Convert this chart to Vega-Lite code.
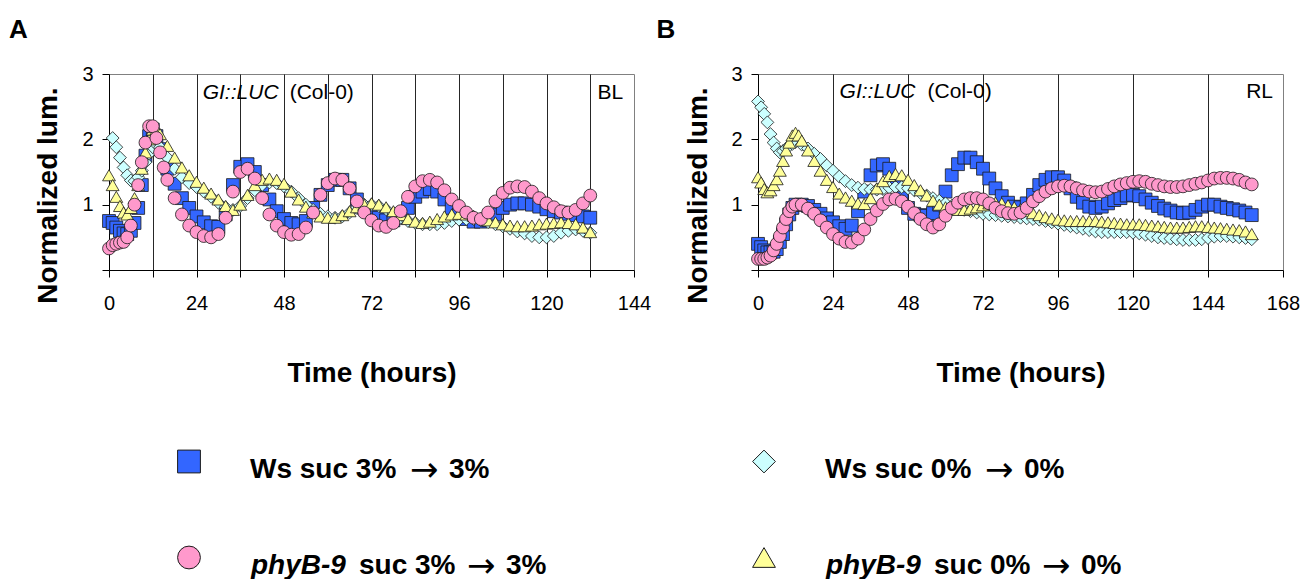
{
"$schema": "https://vega.github.io/schema/vega-lite/v6.json",
"background": "white",
"padding": {"left": 8, "top": 16, "right": 5, "bottom": 0},
"bounds": "flush",
"spacing": 366,
"config": {
  "font": "Liberation Sans",
  "view": {"stroke": "#808080", "strokeWidth": 1},
  "axis": {"labelFont": "Liberation Sans", "labelFontSize": 20, "labelColor": "#000", "titleFont": "Liberation Sans", "titleFontSize": 28, "titleFontWeight": "bold", "titleColor": "#000", "domainColor": "#000", "tickColor": "#000", "domainWidth": 1, "tickWidth": 1, "labelFlush": false, "labelOverlap": false, "labelBound": false}
},
"datasets": {
"a": [
{"s":"W3","t":0,"v":0.75},{"s":"W3","t":1,"v":0.72},{"s":"W3","t":2,"v":0.65},{"s":"W3","t":3,"v":0.6},{"s":"W3","t":4,"v":0.56},{"s":"W3","t":5,"v":0.55},{"s":"W3","t":6,"v":0.6},{"s":"W3","t":7,"v":0.72},{"s":"W3","t":8,"v":0.95},{"s":"W3","t":9,"v":1.3},{"s":"W3","t":10,"v":1.75},{"s":"W3","t":11,"v":2.05},{"s":"W3","t":12,"v":2.15},{"s":"W3","t":13,"v":2.05},{"s":"W3","t":14,"v":1.85},{"s":"W3","t":16,"v":1.55},{"s":"W3","t":18,"v":1.32},{"s":"W3","t":20,"v":1.1},{"s":"W3","t":22,"v":0.95},{"s":"W3","t":24,"v":0.82},{"s":"W3","t":26,"v":0.73},{"s":"W3","t":28,"v":0.67},{"s":"W3","t":30,"v":0.66},{"s":"W3","t":32,"v":0.85},{"s":"W3","t":34,"v":1.3},{"s":"W3","t":36,"v":1.58},{"s":"W3","t":38,"v":1.62},{"s":"W3","t":40,"v":1.5},{"s":"W3","t":42,"v":1.3},{"s":"W3","t":44,"v":1.08},{"s":"W3","t":46,"v":0.9},{"s":"W3","t":48,"v":0.78},{"s":"W3","t":50,"v":0.72},{"s":"W3","t":52,"v":0.7},{"s":"W3","t":54,"v":0.75},{"s":"W3","t":56,"v":0.95},{"s":"W3","t":58,"v":1.15},{"s":"W3","t":60,"v":1.3},{"s":"W3","t":62,"v":1.38},{"s":"W3","t":64,"v":1.38},{"s":"W3","t":66,"v":1.25},{"s":"W3","t":68,"v":1.08},{"s":"W3","t":70,"v":0.95},{"s":"W3","t":72,"v":0.88},{"s":"W3","t":74,"v":0.8},{"s":"W3","t":76,"v":0.76},{"s":"W3","t":78,"v":0.76},{"s":"W3","t":80,"v":0.8},{"s":"W3","t":82,"v":0.95},{"s":"W3","t":84,"v":1.12},{"s":"W3","t":86,"v":1.2},{"s":"W3","t":88,"v":1.24},{"s":"W3","t":90,"v":1.2},{"s":"W3","t":92,"v":1.08},{"s":"W3","t":94,"v":0.95},{"s":"W3","t":96,"v":0.85},{"s":"W3","t":98,"v":0.78},{"s":"W3","t":100,"v":0.74},{"s":"W3","t":102,"v":0.74},{"s":"W3","t":104,"v":0.76},{"s":"W3","t":106,"v":0.85},{"s":"W3","t":108,"v":0.95},{"s":"W3","t":110,"v":1.0},{"s":"W3","t":112,"v":1.02},{"s":"W3","t":114,"v":1.02},{"s":"W3","t":116,"v":1.0},{"s":"W3","t":118,"v":0.97},{"s":"W3","t":120,"v":0.93},{"s":"W3","t":122,"v":0.9},{"s":"W3","t":124,"v":0.88},{"s":"W3","t":126,"v":0.86},{"s":"W3","t":128,"v":0.84},{"s":"W3","t":130,"v":0.82},{"s":"W3","t":132,"v":0.8},
{"s":"W0","t":1,"v":2.02},{"s":"W0","t":2,"v":1.88},{"s":"W0","t":3,"v":1.72},{"s":"W0","t":4,"v":1.57},{"s":"W0","t":5,"v":1.45},{"s":"W0","t":6,"v":1.37},{"s":"W0","t":7,"v":1.36},{"s":"W0","t":8,"v":1.42},{"s":"W0","t":9,"v":1.52},{"s":"W0","t":10,"v":1.65},{"s":"W0","t":11,"v":1.78},{"s":"W0","t":12,"v":1.88},{"s":"W0","t":13,"v":1.92},{"s":"W0","t":14,"v":1.88},{"s":"W0","t":16,"v":1.72},{"s":"W0","t":18,"v":1.55},{"s":"W0","t":20,"v":1.42},{"s":"W0","t":22,"v":1.33},{"s":"W0","t":24,"v":1.27},{"s":"W0","t":26,"v":1.2},{"s":"W0","t":28,"v":1.12},{"s":"W0","t":30,"v":1.03},{"s":"W0","t":32,"v":0.96},{"s":"W0","t":34,"v":0.92},{"s":"W0","t":36,"v":0.98},{"s":"W0","t":38,"v":1.1},{"s":"W0","t":40,"v":1.22},{"s":"W0","t":42,"v":1.3},{"s":"W0","t":44,"v":1.34},{"s":"W0","t":46,"v":1.33},{"s":"W0","t":48,"v":1.28},{"s":"W0","t":50,"v":1.2},{"s":"W0","t":52,"v":1.1},{"s":"W0","t":54,"v":1.0},{"s":"W0","t":56,"v":0.92},{"s":"W0","t":58,"v":0.86},{"s":"W0","t":60,"v":0.82},{"s":"W0","t":62,"v":0.8},{"s":"W0","t":64,"v":0.82},{"s":"W0","t":66,"v":0.88},{"s":"W0","t":68,"v":0.95},{"s":"W0","t":70,"v":1.0},{"s":"W0","t":72,"v":1.0},{"s":"W0","t":74,"v":0.98},{"s":"W0","t":76,"v":0.93},{"s":"W0","t":78,"v":0.87},{"s":"W0","t":80,"v":0.8},{"s":"W0","t":82,"v":0.75},{"s":"W0","t":84,"v":0.72},{"s":"W0","t":86,"v":0.7},{"s":"W0","t":88,"v":0.7},{"s":"W0","t":90,"v":0.7},{"s":"W0","t":92,"v":0.72},{"s":"W0","t":94,"v":0.75},{"s":"W0","t":96,"v":0.77},{"s":"W0","t":98,"v":0.78},{"s":"W0","t":100,"v":0.78},{"s":"W0","t":102,"v":0.76},{"s":"W0","t":104,"v":0.73},{"s":"W0","t":106,"v":0.7},{"s":"W0","t":108,"v":0.67},{"s":"W0","t":110,"v":0.63},{"s":"W0","t":112,"v":0.59},{"s":"W0","t":114,"v":0.56},{"s":"W0","t":116,"v":0.52},{"s":"W0","t":118,"v":0.5},{"s":"W0","t":120,"v":0.5},{"s":"W0","t":122,"v":0.52},{"s":"W0","t":124,"v":0.57},{"s":"W0","t":126,"v":0.6},{"s":"W0","t":128,"v":0.62},{"s":"W0","t":130,"v":0.6},{"s":"W0","t":132,"v":0.57},
{"s":"P0","t":0,"v":1.45},{"s":"P0","t":1,"v":1.3},{"s":"P0","t":2,"v":1.12},{"s":"P0","t":3,"v":0.98},{"s":"P0","t":4,"v":0.88},{"s":"P0","t":5,"v":0.85},{"s":"P0","t":6,"v":0.95},{"s":"P0","t":7,"v":1.1},{"s":"P0","t":8,"v":1.3},{"s":"P0","t":9,"v":1.55},{"s":"P0","t":10,"v":1.8},{"s":"P0","t":11,"v":2.0},{"s":"P0","t":12,"v":2.15},{"s":"P0","t":13,"v":2.15},{"s":"P0","t":14,"v":2.08},{"s":"P0","t":16,"v":1.9},{"s":"P0","t":18,"v":1.72},{"s":"P0","t":20,"v":1.57},{"s":"P0","t":22,"v":1.45},{"s":"P0","t":24,"v":1.35},{"s":"P0","t":26,"v":1.26},{"s":"P0","t":28,"v":1.17},{"s":"P0","t":30,"v":1.08},{"s":"P0","t":32,"v":0.98},{"s":"P0","t":34,"v":0.92},{"s":"P0","t":36,"v":1.0},{"s":"P0","t":38,"v":1.15},{"s":"P0","t":40,"v":1.3},{"s":"P0","t":42,"v":1.38},{"s":"P0","t":44,"v":1.4},{"s":"P0","t":46,"v":1.38},{"s":"P0","t":48,"v":1.32},{"s":"P0","t":50,"v":1.2},{"s":"P0","t":52,"v":1.08},{"s":"P0","t":54,"v":0.97},{"s":"P0","t":56,"v":0.88},{"s":"P0","t":58,"v":0.82},{"s":"P0","t":60,"v":0.8},{"s":"P0","t":62,"v":0.8},{"s":"P0","t":64,"v":0.84},{"s":"P0","t":66,"v":0.9},{"s":"P0","t":68,"v":0.96},{"s":"P0","t":70,"v":1.0},{"s":"P0","t":72,"v":1.02},{"s":"P0","t":74,"v":1.0},{"s":"P0","t":76,"v":0.96},{"s":"P0","t":78,"v":0.9},{"s":"P0","t":80,"v":0.84},{"s":"P0","t":82,"v":0.78},{"s":"P0","t":84,"v":0.74},{"s":"P0","t":86,"v":0.72},{"s":"P0","t":88,"v":0.74},{"s":"P0","t":90,"v":0.78},{"s":"P0","t":92,"v":0.82},{"s":"P0","t":94,"v":0.85},{"s":"P0","t":96,"v":0.86},{"s":"P0","t":98,"v":0.85},{"s":"P0","t":100,"v":0.83},{"s":"P0","t":102,"v":0.8},{"s":"P0","t":104,"v":0.76},{"s":"P0","t":106,"v":0.73},{"s":"P0","t":108,"v":0.7},{"s":"P0","t":110,"v":0.68},{"s":"P0","t":112,"v":0.67},{"s":"P0","t":114,"v":0.67},{"s":"P0","t":116,"v":0.68},{"s":"P0","t":118,"v":0.7},{"s":"P0","t":120,"v":0.71},{"s":"P0","t":122,"v":0.72},{"s":"P0","t":124,"v":0.73},{"s":"P0","t":126,"v":0.72},{"s":"P0","t":128,"v":0.7},{"s":"P0","t":130,"v":0.65},{"s":"P0","t":132,"v":0.58},
{"s":"P3","t":0,"v":0.33},{"s":"P3","t":1,"v":0.38},{"s":"P3","t":2,"v":0.4},{"s":"P3","t":3,"v":0.42},{"s":"P3","t":4,"v":0.43},{"s":"P3","t":5,"v":0.5},{"s":"P3","t":6,"v":0.68},{"s":"P3","t":7,"v":1.0},{"s":"P3","t":8,"v":1.3},{"s":"P3","t":9,"v":1.65},{"s":"P3","t":10,"v":1.95},{"s":"P3","t":11,"v":2.2},{"s":"P3","t":12,"v":2.2},{"s":"P3","t":13,"v":2.02},{"s":"P3","t":14,"v":1.8},{"s":"P3","t":15,"v":1.57},{"s":"P3","t":16,"v":1.38},{"s":"P3","t":18,"v":1.1},{"s":"P3","t":20,"v":0.85},{"s":"P3","t":22,"v":0.68},{"s":"P3","t":24,"v":0.58},{"s":"P3","t":26,"v":0.52},{"s":"P3","t":28,"v":0.5},{"s":"P3","t":30,"v":0.55},{"s":"P3","t":32,"v":0.8},{"s":"P3","t":34,"v":1.2},{"s":"P3","t":36,"v":1.5},{"s":"P3","t":38,"v":1.55},{"s":"P3","t":40,"v":1.4},{"s":"P3","t":42,"v":1.1},{"s":"P3","t":44,"v":0.85},{"s":"P3","t":46,"v":0.68},{"s":"P3","t":48,"v":0.58},{"s":"P3","t":50,"v":0.54},{"s":"P3","t":52,"v":0.55},{"s":"P3","t":54,"v":0.65},{"s":"P3","t":56,"v":0.88},{"s":"P3","t":58,"v":1.15},{"s":"P3","t":60,"v":1.33},{"s":"P3","t":62,"v":1.4},{"s":"P3","t":64,"v":1.38},{"s":"P3","t":66,"v":1.25},{"s":"P3","t":68,"v":1.05},{"s":"P3","t":70,"v":0.88},{"s":"P3","t":72,"v":0.76},{"s":"P3","t":74,"v":0.68},{"s":"P3","t":76,"v":0.66},{"s":"P3","t":78,"v":0.72},{"s":"P3","t":80,"v":0.9},{"s":"P3","t":82,"v":1.12},{"s":"P3","t":84,"v":1.28},{"s":"P3","t":86,"v":1.36},{"s":"P3","t":88,"v":1.38},{"s":"P3","t":90,"v":1.34},{"s":"P3","t":92,"v":1.22},{"s":"P3","t":94,"v":1.08},{"s":"P3","t":96,"v":0.98},{"s":"P3","t":98,"v":0.88},{"s":"P3","t":100,"v":0.8},{"s":"P3","t":102,"v":0.78},{"s":"P3","t":104,"v":0.88},{"s":"P3","t":106,"v":1.05},{"s":"P3","t":108,"v":1.18},{"s":"P3","t":110,"v":1.26},{"s":"P3","t":112,"v":1.28},{"s":"P3","t":114,"v":1.27},{"s":"P3","t":116,"v":1.2},{"s":"P3","t":118,"v":1.1},{"s":"P3","t":120,"v":1.02},{"s":"P3","t":122,"v":0.96},{"s":"P3","t":124,"v":0.9},{"s":"P3","t":126,"v":0.88},{"s":"P3","t":128,"v":0.92},{"s":"P3","t":130,"v":1.02},{"s":"P3","t":132,"v":1.14}
],
"b": [
{"s":"W3","t":0,"v":0.4},{"s":"W3","t":1,"v":0.35},{"s":"W3","t":2,"v":0.3},{"s":"W3","t":3,"v":0.27},{"s":"W3","t":4,"v":0.27},{"s":"W3","t":5,"v":0.28},{"s":"W3","t":6,"v":0.32},{"s":"W3","t":7,"v":0.43},{"s":"W3","t":8,"v":0.55},{"s":"W3","t":9,"v":0.7},{"s":"W3","t":10,"v":0.85},{"s":"W3","t":11,"v":0.95},{"s":"W3","t":12,"v":1.0},{"s":"W3","t":14,"v":1.0},{"s":"W3","t":16,"v":0.98},{"s":"W3","t":18,"v":0.92},{"s":"W3","t":20,"v":0.86},{"s":"W3","t":22,"v":0.79},{"s":"W3","t":24,"v":0.73},{"s":"W3","t":26,"v":0.67},{"s":"W3","t":28,"v":0.63},{"s":"W3","t":30,"v":0.68},{"s":"W3","t":32,"v":0.9},{"s":"W3","t":34,"v":1.2},{"s":"W3","t":36,"v":1.45},{"s":"W3","t":38,"v":1.6},{"s":"W3","t":40,"v":1.62},{"s":"W3","t":42,"v":1.55},{"s":"W3","t":44,"v":1.35},{"s":"W3","t":46,"v":1.1},{"s":"W3","t":48,"v":0.95},{"s":"W3","t":50,"v":0.86},{"s":"W3","t":52,"v":0.84},{"s":"W3","t":54,"v":0.83},{"s":"W3","t":56,"v":0.87},{"s":"W3","t":58,"v":1.0},{"s":"W3","t":60,"v":1.2},{"s":"W3","t":62,"v":1.45},{"s":"W3","t":64,"v":1.62},{"s":"W3","t":66,"v":1.72},{"s":"W3","t":68,"v":1.72},{"s":"W3","t":70,"v":1.65},{"s":"W3","t":72,"v":1.55},{"s":"W3","t":74,"v":1.4},{"s":"W3","t":76,"v":1.25},{"s":"W3","t":78,"v":1.13},{"s":"W3","t":80,"v":1.03},{"s":"W3","t":82,"v":0.97},{"s":"W3","t":84,"v":0.96},{"s":"W3","t":86,"v":1.02},{"s":"W3","t":88,"v":1.15},{"s":"W3","t":90,"v":1.3},{"s":"W3","t":92,"v":1.38},{"s":"W3","t":94,"v":1.42},{"s":"W3","t":96,"v":1.42},{"s":"W3","t":98,"v":1.37},{"s":"W3","t":100,"v":1.25},{"s":"W3","t":102,"v":1.12},{"s":"W3","t":104,"v":1.03},{"s":"W3","t":106,"v":0.97},{"s":"W3","t":108,"v":0.95},{"s":"W3","t":110,"v":0.97},{"s":"W3","t":112,"v":1.02},{"s":"W3","t":114,"v":1.07},{"s":"W3","t":116,"v":1.1},{"s":"W3","t":118,"v":1.14},{"s":"W3","t":120,"v":1.15},{"s":"W3","t":122,"v":1.13},{"s":"W3","t":124,"v":1.08},{"s":"W3","t":126,"v":1.03},{"s":"W3","t":128,"v":0.98},{"s":"W3","t":130,"v":0.94},{"s":"W3","t":132,"v":0.91},{"s":"W3","t":134,"v":0.88},{"s":"W3","t":136,"v":0.87},{"s":"W3","t":138,"v":0.88},{"s":"W3","t":140,"v":0.92},{"s":"W3","t":142,"v":0.97},{"s":"W3","t":144,"v":1.0},{"s":"W3","t":146,"v":1.0},{"s":"W3","t":148,"v":0.97},{"s":"W3","t":150,"v":0.95},{"s":"W3","t":152,"v":0.93},{"s":"W3","t":154,"v":0.91},{"s":"W3","t":156,"v":0.88},{"s":"W3","t":158,"v":0.84},
{"s":"W0","t":0,"v":2.58},{"s":"W0","t":1,"v":2.49},{"s":"W0","t":2,"v":2.39},{"s":"W0","t":3,"v":2.26},{"s":"W0","t":4,"v":2.08},{"s":"W0","t":5,"v":1.95},{"s":"W0","t":6,"v":1.86},{"s":"W0","t":7,"v":1.8},{"s":"W0","t":8,"v":1.82},{"s":"W0","t":9,"v":1.86},{"s":"W0","t":10,"v":1.9},{"s":"W0","t":11,"v":1.93},{"s":"W0","t":12,"v":1.96},{"s":"W0","t":14,"v":1.92},{"s":"W0","t":16,"v":1.86},{"s":"W0","t":18,"v":1.78},{"s":"W0","t":20,"v":1.7},{"s":"W0","t":22,"v":1.6},{"s":"W0","t":24,"v":1.52},{"s":"W0","t":26,"v":1.43},{"s":"W0","t":28,"v":1.36},{"s":"W0","t":30,"v":1.3},{"s":"W0","t":32,"v":1.26},{"s":"W0","t":34,"v":1.24},{"s":"W0","t":36,"v":1.23},{"s":"W0","t":38,"v":1.23},{"s":"W0","t":40,"v":1.24},{"s":"W0","t":42,"v":1.26},{"s":"W0","t":44,"v":1.27},{"s":"W0","t":46,"v":1.27},{"s":"W0","t":48,"v":1.25},{"s":"W0","t":50,"v":1.22},{"s":"W0","t":52,"v":1.18},{"s":"W0","t":54,"v":1.14},{"s":"W0","t":56,"v":1.1},{"s":"W0","t":58,"v":1.06},{"s":"W0","t":60,"v":1.02},{"s":"W0","t":62,"v":0.98},{"s":"W0","t":64,"v":0.95},{"s":"W0","t":66,"v":0.92},{"s":"W0","t":68,"v":0.9},{"s":"W0","t":70,"v":0.88},{"s":"W0","t":72,"v":0.86},{"s":"W0","t":74,"v":0.85},{"s":"W0","t":76,"v":0.84},{"s":"W0","t":78,"v":0.83},{"s":"W0","t":80,"v":0.82},{"s":"W0","t":82,"v":0.81},{"s":"W0","t":84,"v":0.8},{"s":"W0","t":86,"v":0.79},{"s":"W0","t":88,"v":0.78},{"s":"W0","t":90,"v":0.77},{"s":"W0","t":92,"v":0.75},{"s":"W0","t":94,"v":0.73},{"s":"W0","t":96,"v":0.71},{"s":"W0","t":98,"v":0.69},{"s":"W0","t":100,"v":0.67},{"s":"W0","t":102,"v":0.65},{"s":"W0","t":104,"v":0.63},{"s":"W0","t":106,"v":0.61},{"s":"W0","t":108,"v":0.59},{"s":"W0","t":110,"v":0.58},{"s":"W0","t":112,"v":0.58},{"s":"W0","t":114,"v":0.58},{"s":"W0","t":116,"v":0.58},{"s":"W0","t":118,"v":0.58},{"s":"W0","t":120,"v":0.57},{"s":"W0","t":122,"v":0.56},{"s":"W0","t":124,"v":0.54},{"s":"W0","t":126,"v":0.52},{"s":"W0","t":128,"v":0.5},{"s":"W0","t":130,"v":0.49},{"s":"W0","t":132,"v":0.48},{"s":"W0","t":134,"v":0.47},{"s":"W0","t":136,"v":0.46},{"s":"W0","t":138,"v":0.46},{"s":"W0","t":140,"v":0.46},{"s":"W0","t":142,"v":0.47},{"s":"W0","t":144,"v":0.49},{"s":"W0","t":146,"v":0.51},{"s":"W0","t":148,"v":0.52},{"s":"W0","t":150,"v":0.52},{"s":"W0","t":152,"v":0.51},{"s":"W0","t":154,"v":0.5},{"s":"W0","t":156,"v":0.49},{"s":"W0","t":158,"v":0.47},
{"s":"P0","t":0,"v":1.42},{"s":"P0","t":1,"v":1.34},{"s":"P0","t":2,"v":1.24},{"s":"P0","t":3,"v":1.19},{"s":"P0","t":4,"v":1.22},{"s":"P0","t":5,"v":1.3},{"s":"P0","t":6,"v":1.39},{"s":"P0","t":7,"v":1.52},{"s":"P0","t":8,"v":1.67},{"s":"P0","t":9,"v":1.83},{"s":"P0","t":10,"v":1.95},{"s":"P0","t":11,"v":2.06},{"s":"P0","t":12,"v":2.1},{"s":"P0","t":13,"v":2.06},{"s":"P0","t":14,"v":1.98},{"s":"P0","t":16,"v":1.83},{"s":"P0","t":18,"v":1.67},{"s":"P0","t":20,"v":1.52},{"s":"P0","t":22,"v":1.38},{"s":"P0","t":24,"v":1.27},{"s":"P0","t":26,"v":1.17},{"s":"P0","t":28,"v":1.11},{"s":"P0","t":30,"v":1.06},{"s":"P0","t":32,"v":1.02},{"s":"P0","t":34,"v":1.01},{"s":"P0","t":36,"v":1.1},{"s":"P0","t":38,"v":1.25},{"s":"P0","t":40,"v":1.36},{"s":"P0","t":42,"v":1.44},{"s":"P0","t":44,"v":1.47},{"s":"P0","t":46,"v":1.45},{"s":"P0","t":48,"v":1.38},{"s":"P0","t":50,"v":1.3},{"s":"P0","t":52,"v":1.22},{"s":"P0","t":54,"v":1.14},{"s":"P0","t":56,"v":1.06},{"s":"P0","t":58,"v":1.0},{"s":"P0","t":60,"v":0.96},{"s":"P0","t":62,"v":0.93},{"s":"P0","t":64,"v":0.92},{"s":"P0","t":66,"v":0.92},{"s":"P0","t":68,"v":0.94},{"s":"P0","t":70,"v":0.96},{"s":"P0","t":72,"v":0.99},{"s":"P0","t":74,"v":1.02},{"s":"P0","t":76,"v":1.03},{"s":"P0","t":78,"v":1.02},{"s":"P0","t":80,"v":0.99},{"s":"P0","t":82,"v":0.96},{"s":"P0","t":84,"v":0.93},{"s":"P0","t":86,"v":0.9},{"s":"P0","t":88,"v":0.87},{"s":"P0","t":90,"v":0.84},{"s":"P0","t":92,"v":0.81},{"s":"P0","t":94,"v":0.79},{"s":"P0","t":96,"v":0.77},{"s":"P0","t":98,"v":0.76},{"s":"P0","t":100,"v":0.75},{"s":"P0","t":102,"v":0.75},{"s":"P0","t":104,"v":0.75},{"s":"P0","t":106,"v":0.75},{"s":"P0","t":108,"v":0.75},{"s":"P0","t":110,"v":0.74},{"s":"P0","t":112,"v":0.73},{"s":"P0","t":114,"v":0.72},{"s":"P0","t":116,"v":0.71},{"s":"P0","t":118,"v":0.7},{"s":"P0","t":120,"v":0.7},{"s":"P0","t":122,"v":0.7},{"s":"P0","t":124,"v":0.69},{"s":"P0","t":126,"v":0.68},{"s":"P0","t":128,"v":0.67},{"s":"P0","t":130,"v":0.66},{"s":"P0","t":132,"v":0.65},{"s":"P0","t":134,"v":0.65},{"s":"P0","t":136,"v":0.65},{"s":"P0","t":138,"v":0.66},{"s":"P0","t":140,"v":0.67},{"s":"P0","t":142,"v":0.67},{"s":"P0","t":144,"v":0.66},{"s":"P0","t":146,"v":0.65},{"s":"P0","t":148,"v":0.64},{"s":"P0","t":150,"v":0.63},{"s":"P0","t":152,"v":0.62},{"s":"P0","t":154,"v":0.61},{"s":"P0","t":156,"v":0.59},{"s":"P0","t":158,"v":0.55},
{"s":"P3","t":0,"v":0.17},{"s":"P3","t":1,"v":0.17},{"s":"P3","t":2,"v":0.17},{"s":"P3","t":3,"v":0.19},{"s":"P3","t":4,"v":0.22},{"s":"P3","t":5,"v":0.3},{"s":"P3","t":6,"v":0.4},{"s":"P3","t":7,"v":0.52},{"s":"P3","t":8,"v":0.65},{"s":"P3","t":9,"v":0.78},{"s":"P3","t":10,"v":0.9},{"s":"P3","t":11,"v":0.97},{"s":"P3","t":12,"v":1.0},{"s":"P3","t":14,"v":1.0},{"s":"P3","t":16,"v":0.94},{"s":"P3","t":18,"v":0.86},{"s":"P3","t":20,"v":0.76},{"s":"P3","t":22,"v":0.65},{"s":"P3","t":24,"v":0.55},{"s":"P3","t":26,"v":0.48},{"s":"P3","t":28,"v":0.43},{"s":"P3","t":30,"v":0.42},{"s":"P3","t":32,"v":0.48},{"s":"P3","t":34,"v":0.62},{"s":"P3","t":36,"v":0.78},{"s":"P3","t":38,"v":0.91},{"s":"P3","t":40,"v":1.01},{"s":"P3","t":42,"v":1.08},{"s":"P3","t":44,"v":1.09},{"s":"P3","t":46,"v":1.05},{"s":"P3","t":48,"v":0.97},{"s":"P3","t":50,"v":0.87},{"s":"P3","t":52,"v":0.78},{"s":"P3","t":54,"v":0.7},{"s":"P3","t":56,"v":0.65},{"s":"P3","t":58,"v":0.7},{"s":"P3","t":60,"v":0.83},{"s":"P3","t":62,"v":0.95},{"s":"P3","t":64,"v":1.03},{"s":"P3","t":66,"v":1.08},{"s":"P3","t":68,"v":1.1},{"s":"P3","t":70,"v":1.1},{"s":"P3","t":72,"v":1.08},{"s":"P3","t":74,"v":1.02},{"s":"P3","t":76,"v":0.95},{"s":"P3","t":78,"v":0.9},{"s":"P3","t":80,"v":0.87},{"s":"P3","t":82,"v":0.86},{"s":"P3","t":84,"v":0.88},{"s":"P3","t":86,"v":0.95},{"s":"P3","t":88,"v":1.05},{"s":"P3","t":90,"v":1.13},{"s":"P3","t":92,"v":1.2},{"s":"P3","t":94,"v":1.25},{"s":"P3","t":96,"v":1.28},{"s":"P3","t":98,"v":1.29},{"s":"P3","t":100,"v":1.28},{"s":"P3","t":102,"v":1.25},{"s":"P3","t":104,"v":1.22},{"s":"P3","t":106,"v":1.2},{"s":"P3","t":108,"v":1.19},{"s":"P3","t":110,"v":1.2},{"s":"P3","t":112,"v":1.24},{"s":"P3","t":114,"v":1.28},{"s":"P3","t":116,"v":1.31},{"s":"P3","t":118,"v":1.33},{"s":"P3","t":120,"v":1.35},{"s":"P3","t":122,"v":1.36},{"s":"P3","t":124,"v":1.35},{"s":"P3","t":126,"v":1.32},{"s":"P3","t":128,"v":1.3},{"s":"P3","t":130,"v":1.28},{"s":"P3","t":132,"v":1.27},{"s":"P3","t":134,"v":1.27},{"s":"P3","t":136,"v":1.28},{"s":"P3","t":138,"v":1.3},{"s":"P3","t":140,"v":1.32},{"s":"P3","t":142,"v":1.34},{"s":"P3","t":144,"v":1.37},{"s":"P3","t":146,"v":1.4},{"s":"P3","t":148,"v":1.41},{"s":"P3","t":150,"v":1.41},{"s":"P3","t":152,"v":1.4},{"s":"P3","t":154,"v":1.38},{"s":"P3","t":156,"v":1.34},{"s":"P3","t":158,"v":1.31}
],
"lg": [
{"s":"W3","c":0,"r":0,"i":"","p":"Ws suc 3%","q":"3%"},
{"s":"P3","c":0,"r":1,"i":"phyB-9","p":"suc 3%","q":"3%"},
{"s":"W0","c":1,"r":0,"i":"","p":"Ws suc 0%","q":"0%"},
{"s":"P0","c":1,"r":1,"i":"phyB-9","p":"suc 0%","q":"0%"}
]
},
"vconcat": [
{
"hconcat": [
{
"width": 525, "height": 196,
"title": {"text": "A", "anchor": "start", "frame": "group", "dx": -100, "offset": 0, "baseline": "alphabetic", "fontSize": 26, "fontWeight": "bold", "font": "Liberation Sans", "color": "#000"},
"layer": [
{"data": {"name": "a"},
 "mark": {"type": "point", "filled": true, "size": 165, "stroke": "#1a1a1a", "strokeWidth": 0.8, "opacity": 1},
 "encoding": {
  "x": {"field": "t", "type": "quantitative", "scale": {"domain": [0, 144], "nice": false, "zero": false},
        "axis": {"values": [0,12,24,36,48,60,72,84,96,108,120,132,144], "labelExpr": "datum.value % 24 === 0 ? datum.label : ''", "grid": true, "gridColor": "#000", "gridWidth": 1, "gridOpacity": {"condition": {"test": "datum.value === 0 || datum.value === 144", "value": 0}, "value": 0.85}, "tickSize": 7, "labelPadding": 16, "title": "Time (hours)", "titleY": 111, "titleBaseline": "alphabetic"}},
  "y": {"field": "v", "type": "quantitative", "scale": {"domain": [0, 3], "nice": false},
        "axis": {"values": [0,1,2,3], "format": "d", "labelExpr": "datum.value === 0 ? '' : datum.label", "grid": false, "tickSize": 7, "labelPadding": 9, "title": "Normalized lum.", "titleX": -52.5, "titleY": 121, "titleBaseline": "alphabetic", "titleAlign": "center"}},
  "shape": {"field": "s", "type": "nominal", "scale": {"domain": ["W3","P3","W0","P0"], "range": ["square","circle","diamond","triangle-up"]}, "legend": null},
  "fill": {"field": "s", "type": "nominal", "scale": {"domain": ["W3","P3","W0","P0"], "range": ["#3366FF","#FF99CC","#CCFFFF","#FFFF99"]}, "legend": null}
 }},
{"data": {"values": [{"label": "GI::LUC"}]},
 "mark": {"type": "text", "align": "left", "baseline": "alphabetic", "fontSize": 21, "fontStyle": "italic", "font": "Liberation Sans", "color": "#000"},
 "encoding": {"x": {"datum": 25.7, "type": "quantitative"}, "y": {"datum": 2.62, "type": "quantitative"}, "text": {"field": "label"}}},
{"data": {"values": [{"label": "(Col-0)"}]},
 "mark": {"type": "text", "align": "left", "baseline": "alphabetic", "fontSize": 21, "dx": 87, "font": "Liberation Sans", "color": "#000"},
 "encoding": {"x": {"datum": 25.7, "type": "quantitative"}, "y": {"datum": 2.62, "type": "quantitative"}, "text": {"field": "label"}}},
{"data": {"values": [{"label": "BL"}]},
 "mark": {"type": "text", "align": "right", "baseline": "alphabetic", "fontSize": 21, "font": "Liberation Sans", "color": "#000"},
 "encoding": {"x": {"datum": 141, "type": "quantitative"}, "y": {"datum": 2.62, "type": "quantitative"}, "text": {"field": "label"}}}
]
},
{
"width": 525, "height": 196,
"title": {"text": "B", "anchor": "start", "frame": "group", "dx": -101.5, "offset": 0, "baseline": "alphabetic", "fontSize": 26, "fontWeight": "bold", "font": "Liberation Sans", "color": "#000"},
"layer": [
{"data": {"name": "b"},
 "mark": {"type": "point", "filled": true, "size": 165, "stroke": "#1a1a1a", "strokeWidth": 0.8, "opacity": 1},
 "encoding": {
  "x": {"field": "t", "type": "quantitative", "scale": {"domain": [0, 168], "nice": false, "zero": false},
        "axis": {"values": [0,12,24,36,48,60,72,84,96,108,120,132,144,156,168], "labelExpr": "datum.value % 24 === 0 ? datum.label : ''", "grid": true, "gridColor": "#000", "gridWidth": 1, "gridOpacity": {"condition": {"test": "datum.value === 0 || datum.value === 168", "value": 0}, "value": 0.85}, "tickSize": 7, "labelPadding": 16, "title": "Time (hours)", "titleY": 111, "titleBaseline": "alphabetic"}},
  "y": {"field": "v", "type": "quantitative", "scale": {"domain": [0, 3], "nice": false},
        "axis": {"values": [0,1,2,3], "format": "d", "labelExpr": "datum.value === 0 ? '' : datum.label", "grid": false, "tickSize": 7, "labelPadding": 9, "title": "Normalized lum.", "titleX": -52, "titleY": 121, "titleBaseline": "alphabetic", "titleAlign": "center"}},
  "shape": {"field": "s", "type": "nominal", "scale": {"domain": ["W3","P3","W0","P0"], "range": ["square","circle","diamond","triangle-up"]}, "legend": null},
  "fill": {"field": "s", "type": "nominal", "scale": {"domain": ["W3","P3","W0","P0"], "range": ["#3366FF","#FF99CC","#CCFFFF","#FFFF99"]}, "legend": null}
 }},
{"data": {"values": [{"label": "GI::LUC"}]},
 "mark": {"type": "text", "align": "left", "baseline": "alphabetic", "fontSize": 21, "fontStyle": "italic", "font": "Liberation Sans", "color": "#000"},
 "encoding": {"x": {"datum": 26.1, "type": "quantitative"}, "y": {"datum": 2.64, "type": "quantitative"}, "text": {"field": "label"}}},
{"data": {"values": [{"label": "(Col-0)"}]},
 "mark": {"type": "text", "align": "left", "baseline": "alphabetic", "fontSize": 21, "dx": 88, "font": "Liberation Sans", "color": "#000"},
 "encoding": {"x": {"datum": 26.1, "type": "quantitative"}, "y": {"datum": 2.64, "type": "quantitative"}, "text": {"field": "label"}}},
{"data": {"values": [{"label": "RL"}]},
 "mark": {"type": "text", "align": "right", "baseline": "alphabetic", "fontSize": 21, "font": "Liberation Sans", "color": "#000"},
 "encoding": {"x": {"datum": 164.8, "type": "quantitative"}, "y": {"datum": 2.64, "type": "quantitative"}, "text": {"field": "label"}}}
]
}
],
"spacing": 124,
"bounds": "flush"
},
{
"width": 1174, "height": 139,
"view": {"stroke": null},
"data": {"name": "lg"},
"encoding": {
  "x": {"field": "c", "type": "quantitative", "scale": {"domain": [0, 1], "range": [80, 655]}, "axis": null},
  "y": {"field": "r", "type": "quantitative", "scale": {"domain": [0, 1], "range": [21.5, 117.5]}, "axis": null}
},
"layer": [
{"mark": {"type": "point", "filled": true, "size": 520, "stroke": "#1a1a1a", "strokeWidth": 1, "opacity": 1},
 "encoding": {
  "shape": {"field": "s", "type": "nominal", "scale": {"domain": ["W3","P3","W0","P0"], "range": ["square","circle","diamond","triangle-up"]}, "legend": null},
  "fill": {"field": "s", "type": "nominal", "scale": {"domain": ["W3","P3","W0","P0"], "range": ["#3366FF","#FF99CC","#CCFFFF","#FFFF99"]}, "legend": null}
 }},
{"transform": [{"filter": "datum.i === ''"}],
 "mark": {"type": "text", "align": "left", "baseline": "alphabetic", "dx": 61, "dy": 16, "fontSize": 28, "fontWeight": "bold", "font": "Liberation Sans", "color": "#000"},
 "encoding": {"text": {"field": "p"}}},
{"transform": [{"filter": "datum.i === ''"}],
 "mark": {"type": "text", "align": "left", "baseline": "alphabetic", "dx": 221, "dy": 19, "fontSize": 34, "font": "DejaVu Sans", "color": "#000"},
 "encoding": {"text": {"value": "→"}}},
{"transform": [{"filter": "datum.i === ''"}],
 "mark": {"type": "text", "align": "left", "baseline": "alphabetic", "dx": 260, "dy": 16, "fontSize": 28, "fontWeight": "bold", "font": "Liberation Sans", "color": "#000"},
 "encoding": {"text": {"field": "q"}}},
{"transform": [{"filter": "datum.i !== ''"}],
 "mark": {"type": "text", "align": "left", "baseline": "alphabetic", "dx": 62, "dy": 16, "fontSize": 28, "fontWeight": "bold", "fontStyle": "italic", "font": "Liberation Sans", "color": "#000"},
 "encoding": {"text": {"field": "i"}}},
{"transform": [{"filter": "datum.i !== ''"}],
 "mark": {"type": "text", "align": "left", "baseline": "alphabetic", "dx": 170, "dy": 16, "fontSize": 28, "fontWeight": "bold", "font": "Liberation Sans", "color": "#000"},
 "encoding": {"text": {"field": "p"}}},
{"transform": [{"filter": "datum.i !== ''"}],
 "mark": {"type": "text", "align": "left", "baseline": "alphabetic", "dx": 278, "dy": 19, "fontSize": 34, "font": "DejaVu Sans", "color": "#000"},
 "encoding": {"text": {"value": "→"}}},
{"transform": [{"filter": "datum.i !== ''"}],
 "mark": {"type": "text", "align": "left", "baseline": "alphabetic", "dx": 317, "dy": 16, "fontSize": 28, "fontWeight": "bold", "font": "Liberation Sans", "color": "#000"},
 "encoding": {"text": {"field": "q"}}}
]
}
]
}
